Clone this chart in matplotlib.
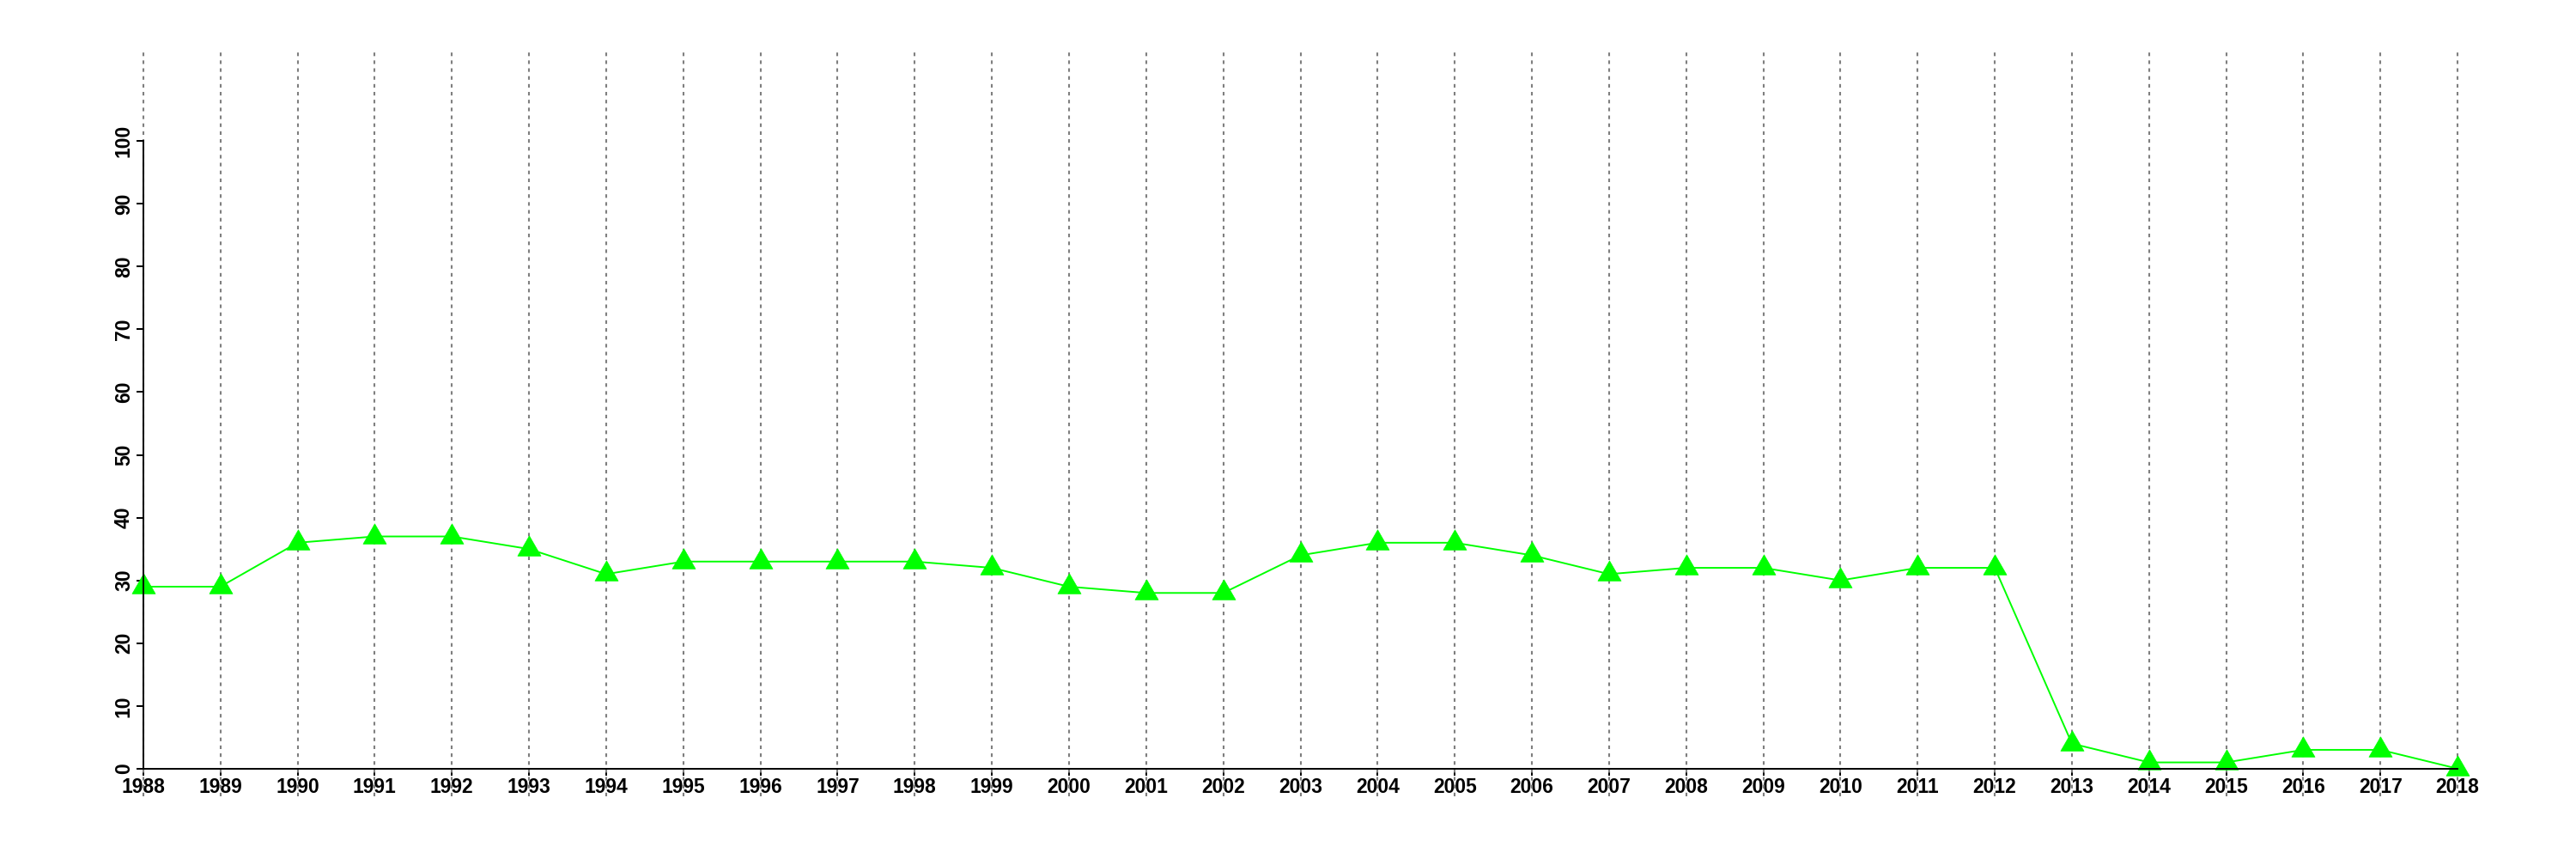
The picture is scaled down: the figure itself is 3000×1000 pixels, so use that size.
import matplotlib
matplotlib.use('Agg')
import matplotlib.pyplot as plt
from matplotlib.path import Path

# ---- data ----
years = list(range(1988, 2019))
values = [29, 29, 36, 37, 37, 35, 31, 33, 33, 33, 33, 32, 29, 28, 28,
          34, 36, 36, 34, 31, 32, 32, 30, 32, 32, 4, 1, 1, 3, 3, 0]
y_ticks = [0, 10, 20, 30, 40, 50, 60, 70, 80, 90, 100]
x_labels = [str(y) for y in years]
y_labels = [str(v) for v in y_ticks]

plt.rcParams['font.family'] = ['Liberation Sans', 'DejaVu Sans']

fig = plt.figure(figsize=(30, 10), dpi=100)
ax = fig.add_axes([59 / 3000, 73 / 1000, (2970 - 59) / 3000, 868 / 1000])
ax.set_xlim(1986.8, 2019.2)
ax.set_ylim(-4.4, 114.4)

# dotted vertical guide lines
for yr in years:
    ax.axvline(yr, color='#7f7f7f', linewidth=1.5, linestyle=(0, (2.0, 2.4)), zorder=2)

# equilateral triangle marker centred at its centroid
tri = Path([(-1, -0.577), (1, -0.577), (0, 1.155), (-1, -0.577)],
           [Path.MOVETO, Path.LINETO, Path.LINETO, Path.CLOSEPOLY])

ax.plot(years, values, color='#00ff00', linewidth=1.4, zorder=3)
ax.plot(years, values, linestyle='none', marker=tri, markersize=22.5,
        markerfacecolor='#00ff00', markeredgecolor='#00ff00', markeredgewidth=0.5, zorder=4)

# axes styling
for s in ['top', 'right']:
    ax.spines[s].set_visible(False)
ax.spines['left'].set_position(('data', years[0]))
ax.spines['left'].set_bounds(y_ticks[0], y_ticks[-1])
ax.spines['bottom'].set_position(('data', 0))
ax.spines['bottom'].set_bounds(years[0], years[-1])
for s in ['left', 'bottom']:
    ax.spines[s].set_linewidth(1.44)
    ax.spines[s].set_zorder(5)

ax.set_xticks(years, labels=x_labels, fontsize=16.5, fontweight='bold')
ax.set_yticks(y_ticks, labels=y_labels, fontsize=16.5, fontweight='bold',
              rotation=90, va='center')
ax.tick_params(axis='x', length=5.5, width=1.44, pad=1.5)
ax.tick_params(axis='y', length=5.8, width=1.44, pad=2)

fig.savefig('out.png', dpi=100)
